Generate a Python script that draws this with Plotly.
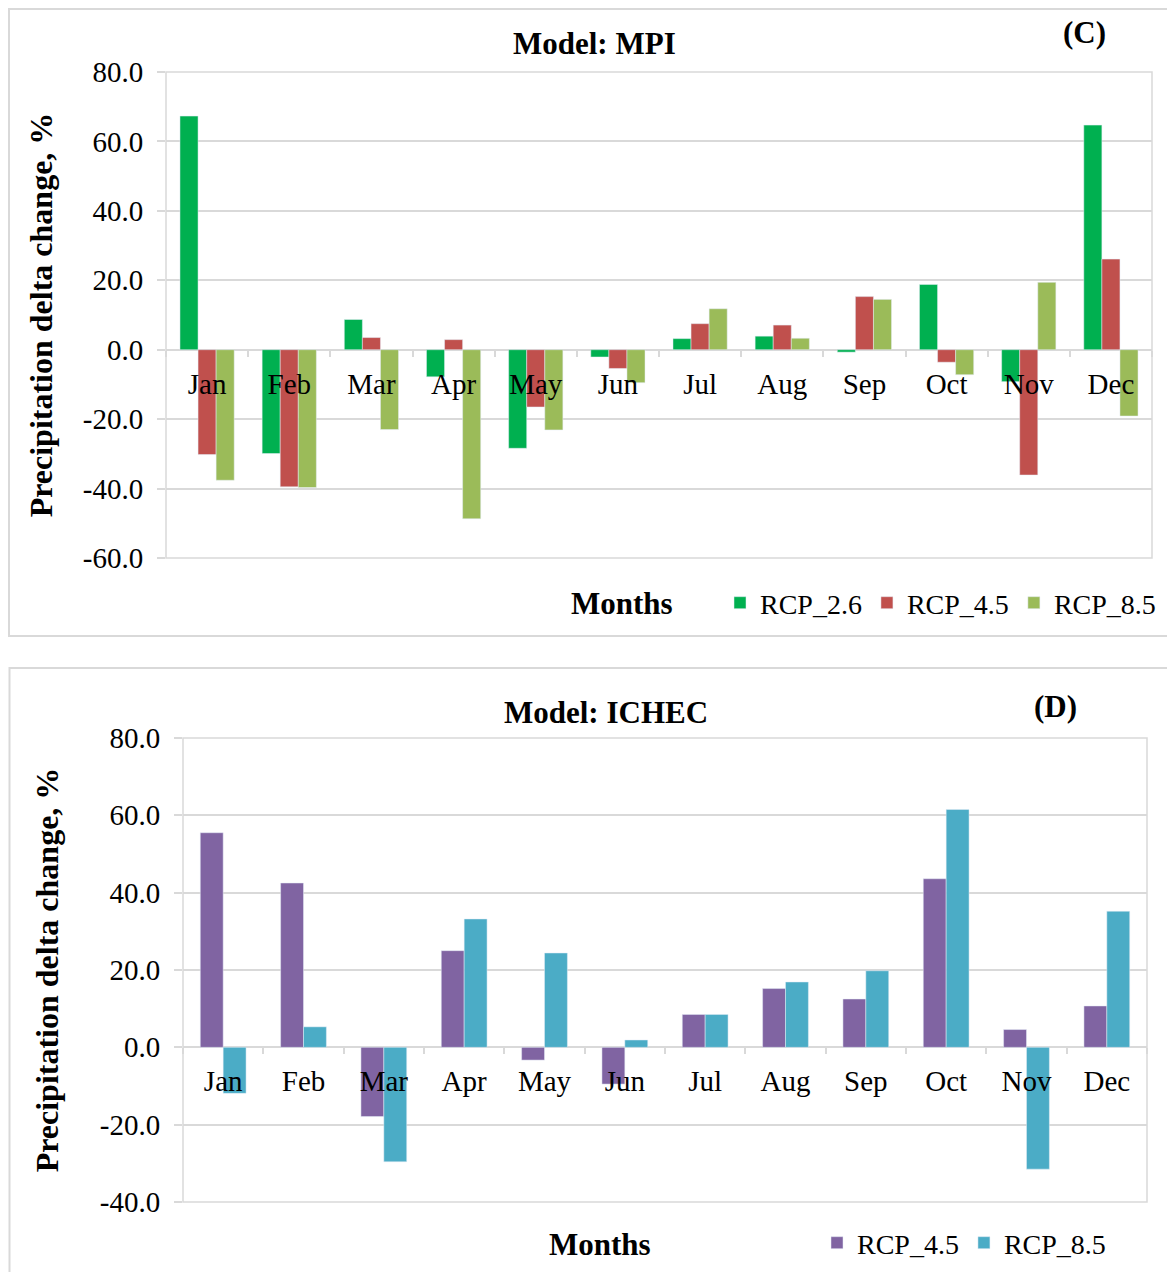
import plotly.graph_objects as go

months = ["Jan", "Feb", "Mar", "Apr", "May", "Jun", "Jul", "Aug", "Sep", "Oct", "Nov", "Dec"]

# Panel C: Model MPI
mpi_rcp26 = [67.3, -29.9, 8.7, -7.8, -28.4, -2.1, 3.2, 3.9, -0.7, 18.8, -9.2, 64.7]
mpi_rcp45 = [-30.2, -39.5, 3.5, 2.9, -16.5, -5.4, 7.5, 7.1, 15.3, -3.6, -36.1, 26.1]
mpi_rcp85 = [-37.6, -39.7, -23.0, -48.7, -23.1, -9.5, 11.8, 3.3, 14.5, -7.2, 19.4, -19.1]

# Panel D: Model ICHEC
ichec_rcp45 = [55.5, 42.5, -17.9, 25.0, -3.3, -9.5, 8.5, 15.2, 12.5, 43.6, 4.6, 10.7]
ichec_rcp85 = [-11.9, 5.3, -29.6, 33.2, 24.4, 1.9, 8.5, 16.9, 19.8, 61.5, -31.5, 35.2]

# y tick values / labels
top_ticks = [-60, -40, -20, 0, 20, 40, 60, 80]
top_ticklabels = ["-60.0", "-40.0", "-20.0", "0.0", "20.0", "40.0", "60.0", "80.0"]
bot_ticks = [-40, -20, 0, 20, 40, 60, 80]
bot_ticklabels = ["-40.0", "-20.0", "0.0", "20.0", "40.0", "60.0", "80.0"]

W, H = 1175, 1272
OFF = 8  # default page body margin
FONT = "Liberation Serif, Times New Roman, serif"
GRID = "#d9d9d9"

def px(x):
    return (x - OFF) / W

def py(y):
    return 1 - (y - OFF) / H

top_range = [-60, 80]
bot_range = [-40, 80]
top_ydom = [py(558), py(72)]
bot_ydom = [py(1202), py(738)]
top_xdom = [px(166), px(1152)]
bot_xdom = [px(183), px(1147)]

def zero_pos(dom, rng):
    return dom[0] + (dom[1] - dom[0]) * (0 - rng[0]) / (rng[1] - rng[0])

fig = go.Figure()

fig.add_trace(go.Bar(x=months, y=mpi_rcp26, name="RCP_2.6", marker_color="#00B050",
                     xaxis="x", yaxis="y", legend="legend"))
fig.add_trace(go.Bar(x=months, y=mpi_rcp45, name="RCP_4.5", marker_color="#C0504D",
                     xaxis="x", yaxis="y", legend="legend"))
fig.add_trace(go.Bar(x=months, y=mpi_rcp85, name="RCP_8.5", marker_color="#9BBB59",
                     xaxis="x", yaxis="y", legend="legend"))

fig.add_trace(go.Bar(x=months, y=ichec_rcp45, name="RCP_4.5", marker_color="#8064A2",
                     xaxis="x2", yaxis="y2", legend="legend2", offsetgroup="a"))
fig.add_trace(go.Bar(x=months, y=ichec_rcp85, name="RCP_8.5", marker_color="#4BACC6",
                     xaxis="x2", yaxis="y2", legend="legend2", offsetgroup="b"))

tickfont = dict(family=FONT, size=29, color="black")
ytitlefont = dict(family=FONT, size=32, color="black")
legfont = dict(family=FONT, size=28, color="black")

xcommon = dict(showgrid=False, showline=False, ticks="outside", tickson="boundaries",
               ticklen=6, tickcolor=GRID, tickwidth=1.5, tickfont=tickfont,
               ticklabelstandoff=14, zeroline=False, fixedrange=True, automargin=False)
ycommon = dict(showgrid=True, gridcolor=GRID, gridwidth=1.5,
               ticks="outside", ticklen=8, tickcolor=GRID, tickwidth=1.5, tickfont=tickfont,
               zeroline=True, zerolinecolor=GRID, zerolinewidth=1.5, showline=False,
               ticklabelstandoff=8, automargin=False)

fig.update_layout(
    width=W, height=H,
    margin=dict(l=0, r=0, t=0, b=0, autoexpand=False),
    paper_bgcolor="white", plot_bgcolor="white",
    font=dict(family=FONT, color="black"),
    barmode="group",
    xaxis=dict(domain=top_xdom, anchor="free", position=zero_pos(top_ydom, top_range), **xcommon),
    yaxis=dict(domain=top_ydom, range=top_range, anchor="x",
               tickvals=top_ticks, ticktext=top_ticklabels,
               title=dict(text="<b>Precipitation delta change, %</b>", font=ytitlefont, standoff=20),
               **ycommon),
    xaxis2=dict(domain=bot_xdom, anchor="free", position=zero_pos(bot_ydom, bot_range), **xcommon),
    yaxis2=dict(domain=bot_ydom, range=bot_range, anchor="x2",
                tickvals=bot_ticks, ticktext=bot_ticklabels,
                title=dict(text="<b>Precipitation delta change, %</b>", font=ytitlefont, standoff=31),
                **ycommon),
    legend=dict(orientation="h", x=px(720), y=py(603), xanchor="left", yanchor="middle",
                font=legfont, bgcolor="rgba(0,0,0,0)",
                itemwidth=30, traceorder="normal"),
    legend2=dict(orientation="h", x=px(817), y=py(1243), xanchor="left", yanchor="middle",
                 font=legfont, bgcolor="rgba(0,0,0,0)",
                 itemwidth=30, traceorder="normal"),
    showlegend=True,
)

fig.update_layout(bargap=0.34)
fig.update_traces(selector=dict(xaxis="x2"), width=0.285)
fig.update_traces(selector=dict(xaxis="x2", offsetgroup="a"), offset=-0.285)
fig.update_traces(selector=dict(xaxis="x2", offsetgroup="b"), offset=0.0)

# plot-area frames and panel borders
shapes = [
    dict(type="rect", xref="x domain", yref="y domain", x0=0, x1=1, y0=0, y1=1,
         line=dict(color=GRID, width=1.5), layer="below"),
    dict(type="rect", xref="x2 domain", yref="y2 domain", x0=0, x1=1, y0=0, y1=1,
         line=dict(color=GRID, width=1.5), layer="below"),
    dict(type="rect", xref="paper", yref="paper", x0=px(9), x1=px(1200), y0=py(636), y1=py(9),
         line=dict(color=GRID, width=2), layer="below"),
    dict(type="rect", xref="paper", yref="paper", x0=px(9.5), x1=px(1200), y0=py(1300), y1=py(668),
         line=dict(color=GRID, width=2), layer="below"),
]
fig.update_layout(shapes=shapes)

ann = [
    dict(text="<b>Model: MPI</b>", x=px(594), y=py(43)),
    dict(text="<b>(C)</b>", x=px(1084), y=py(33)),
    dict(text="<b>Months</b>", x=px(622), y=py(603)),
    dict(text="<b>Model: ICHEC</b>", x=px(606), y=py(712)),
    dict(text="<b>(D)</b>", x=px(1055), y=py(706)),
    dict(text="<b>Months</b>", x=px(600), y=py(1244)),
]
for a in ann:
    fig.add_annotation(xref="paper", yref="paper", showarrow=False, xanchor="center", yanchor="middle",
                       font=dict(family=FONT, size=31, color="black"), **a)

fig.write_html("out.html")
